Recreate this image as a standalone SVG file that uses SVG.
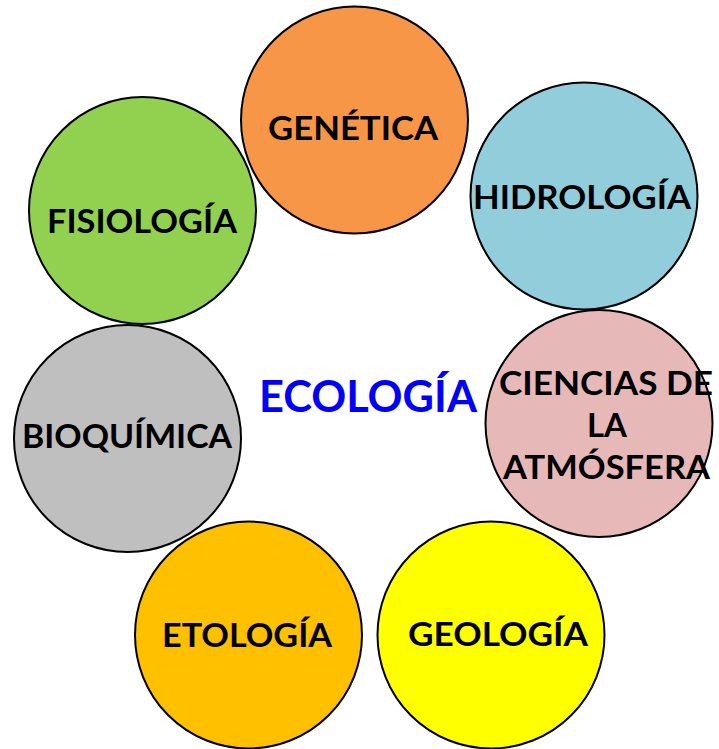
<svg xmlns="http://www.w3.org/2000/svg" width="719" height="749" viewBox="0 0 719 749">
<style>
.c{stroke:#000;stroke-width:2}
.t{font-family:Lato,"Noto Sans","Liberation Sans",sans-serif;font-weight:bold;font-size:32px;fill:#000;text-anchor:middle}
.m{font-family:Lato,"Noto Sans","Liberation Sans",sans-serif;font-weight:bold;font-size:43px;fill:#0000FF;text-anchor:middle}
</style>
<rect width="719" height="749" fill="#fff"/>
<g id="connectors"/>
<g id="genetica">
<circle class="c" cx="354.5" cy="120" r="113.5" fill="#F79646"/>
<text class="t" x="353" y="140" textLength="170" lengthAdjust="spacingAndGlyphs">GENÉTICA</text>
</g>
<g id="hidrologia">
<circle class="c" cx="584" cy="196" r="113.5" fill="#92CDDC"/>
<text class="t" x="582" y="209" textLength="218" lengthAdjust="spacingAndGlyphs">HIDROLOGÍA</text>
</g>
<g id="ciencias">
<circle class="c" cx="599" cy="423.5" r="113.5" fill="#E6B9B8"/>
<text class="t" x="606" y="395" textLength="214" lengthAdjust="spacingAndGlyphs">CIENCIAS DE</text>
<text class="t" x="607" y="437" textLength="40" lengthAdjust="spacingAndGlyphs">LA</text>
<text class="t" x="606.5" y="479" textLength="207" lengthAdjust="spacingAndGlyphs">ATMÓSFERA</text>
</g>
<g id="geologia">
<circle class="c" cx="491" cy="635" r="113.5" fill="#FFFF00"/>
<text class="t" x="498" y="646" textLength="180" lengthAdjust="spacingAndGlyphs">GEOLOGÍA</text>
</g>
<g id="etologia">
<circle class="c" cx="248.5" cy="635" r="113.5" fill="#FFC000"/>
<text class="t" x="247" y="647" textLength="170" lengthAdjust="spacingAndGlyphs">ETOLOGÍA</text>
</g>
<g id="bioquimica">
<circle class="c" cx="127.5" cy="438.5" r="113.5" fill="#BFBFBF"/>
<text class="t" x="127" y="448" textLength="210" lengthAdjust="spacingAndGlyphs">BIOQUÍMICA</text>
</g>
<g id="fisiologia">
<circle class="c" cx="142.5" cy="210.5" r="113.5" fill="#92D050"/>
<text class="t" x="142" y="233" textLength="190" lengthAdjust="spacingAndGlyphs">FISIOLOGÍA</text>
</g>
<g id="ecologia">
<text class="m" x="368" y="412" textLength="218" lengthAdjust="spacingAndGlyphs">ECOLOGÍA</text>
</g>
</svg>
